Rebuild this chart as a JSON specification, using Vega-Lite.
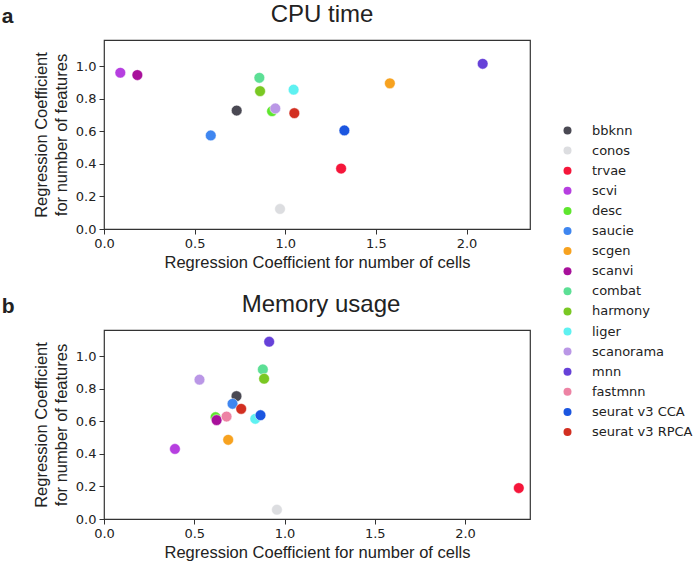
{
  "$schema": "https://vega.github.io/schema/vega-lite/v6.json",
  "background": "white",
  "padding": {"left": 1, "top": 2, "right": 5, "bottom": 5},
  "data": {"values": [
    {"panel": "a", "method": "bbknn", "cells": 0.732, "features": 0.727},
    {"panel": "a", "method": "conos", "cells": 0.971, "features": 0.123},
    {"panel": "a", "method": "trvae", "cells": 1.308, "features": 0.371},
    {"panel": "a", "method": "scvi", "cells": 0.090, "features": 0.959},
    {"panel": "a", "method": "desc", "cells": 0.927, "features": 0.723},
    {"panel": "a", "method": "saucie", "cells": 0.589, "features": 0.574},
    {"panel": "a", "method": "scgen", "cells": 1.577, "features": 0.894},
    {"panel": "a", "method": "scanvi", "cells": 0.184, "features": 0.945},
    {"panel": "a", "method": "combat", "cells": 0.857, "features": 0.928},
    {"panel": "a", "method": "harmony", "cells": 0.861, "features": 0.846},
    {"panel": "a", "method": "liger", "cells": 1.046, "features": 0.855},
    {"panel": "a", "method": "scanorama", "cells": 0.945, "features": 0.740},
    {"panel": "a", "method": "mnn", "cells": 2.089, "features": 1.014},
    {"panel": "a", "method": "seurat v3 CCA", "cells": 1.326, "features": 0.605},
    {"panel": "a", "method": "seurat v3 RPCA", "cells": 1.050, "features": 0.711},
    {"panel": "b", "method": "bbknn", "cells": 0.734, "features": 0.754},
    {"panel": "b", "method": "conos", "cells": 0.958, "features": 0.057},
    {"panel": "b", "method": "trvae", "cells": 2.298, "features": 0.190},
    {"panel": "b", "method": "scvi", "cells": 0.393, "features": 0.430},
    {"panel": "b", "method": "desc", "cells": 0.618, "features": 0.625},
    {"panel": "b", "method": "saucie", "cells": 0.712, "features": 0.707},
    {"panel": "b", "method": "scgen", "cells": 0.688, "features": 0.486},
    {"panel": "b", "method": "scanvi", "cells": 0.624, "features": 0.607},
    {"panel": "b", "method": "combat", "cells": 0.880, "features": 0.918},
    {"panel": "b", "method": "harmony", "cells": 0.887, "features": 0.861},
    {"panel": "b", "method": "liger", "cells": 0.838, "features": 0.615},
    {"panel": "b", "method": "scanorama", "cells": 0.529, "features": 0.855},
    {"panel": "b", "method": "mnn", "cells": 0.915, "features": 1.088},
    {"panel": "b", "method": "fastmnn", "cells": 0.679, "features": 0.629},
    {"panel": "b", "method": "seurat v3 CCA", "cells": 0.867, "features": 0.637},
    {"panel": "b", "method": "seurat v3 RPCA", "cells": 0.760, "features": 0.676}
  ]},
  "vconcat": [
    {
      "title": {"text": "a", "anchor": "start", "fontSize": 21, "fontWeight": "bold", "offset": -25, "dx": -31},
      "vconcat": [
        {
          "title": {"text": "CPU time", "fontSize": 24, "fontWeight": "normal", "offset": 13, "dx": 5},
          "transform": [{"filter": "datum.panel === 'a'"}],
          "width": 426, "height": 189,
          "mark": {"type": "circle", "size": 115, "opacity": 1, "stroke": "white", "strokeWidth": 0.5},
          "encoding": {
            "x": {"field": "cells", "type": "quantitative", "scale": {"domain": [0, 2.35], "nice": false, "zero": false},
                  "axis": {"values": [0, 0.5, 1, 1.5, 2], "format": ".1f", "title": "Regression Coefficient for number of cells"}},
            "y": {"field": "features", "type": "quantitative", "scale": {"domain": [0, 1.16], "nice": false},
                  "axis": {"values": [0, 0.2, 0.4, 0.6, 0.8, 1.0], "format": ".1f", "title": ["Regression Coefficient", "for number of features"]}},
            "color": {"field": "method", "type": "nominal",
                      "scale": {"domain": ["bbknn", "conos", "trvae", "scvi", "desc", "saucie", "scgen", "scanvi", "combat", "harmony", "liger", "scanorama", "mnn", "fastmnn", "seurat v3 CCA", "seurat v3 RPCA"],
                                "range": ["#4a4953", "#dcdde0", "#f5163a", "#b63fe0", "#5ee62e", "#3f86f0", "#f7a21f", "#a8109b", "#5cdf95", "#7ac823", "#5ef1f1", "#ba97e6", "#6641d8", "#ed83a4", "#1b56e0", "#d22f21"]},
                      "legend": {"title": null, "orient": "none", "legendX": 457, "legendY": 84}}
          }
        }
      ]
    },
    {
      "title": {"text": "b", "anchor": "start", "fontSize": 21, "fontWeight": "bold", "offset": -25, "dx": -31},
      "vconcat": [
        {
          "title": {"text": "Memory usage", "fontSize": 24, "fontWeight": "normal", "offset": 13, "dx": 4},
          "transform": [{"filter": "datum.panel === 'b'"}],
          "width": 426, "height": 189,
          "mark": {"type": "circle", "size": 115, "opacity": 1, "stroke": "white", "strokeWidth": 0.5},
          "encoding": {
            "x": {"field": "cells", "type": "quantitative", "scale": {"domain": [0, 2.36], "nice": false, "zero": false},
                  "axis": {"values": [0, 0.5, 1, 1.5, 2], "format": ".1f", "title": "Regression Coefficient for number of cells"}},
            "y": {"field": "features", "type": "quantitative", "scale": {"domain": [0, 1.16], "nice": false},
                  "axis": {"values": [0, 0.2, 0.4, 0.6, 0.8, 1.0], "format": ".1f", "title": ["Regression Coefficient", "for number of features"]}},
            "color": {"field": "method", "type": "nominal"}
          }
        }
      ]
    }
  ],
  "spacing": 20,
  "config": {
    "font": "DejaVu Sans",
    "view": {"stroke": "#333333", "strokeWidth": 1.2},
    "concat": {"spacing": 20},
    "title": {"color": "#222222", "font": "Liberation Sans"},
    "axis": {
      "grid": false, "domain": false,
      "tickColor": "#333333", "tickSize": 5, "tickWidth": 1,
      "labelFont": "DejaVu Sans", "labelFontSize": 13, "labelColor": "#222222", "labelPadding": 3,
      "titleFont": "Liberation Sans", "titleFontSize": 16.5, "titleFontWeight": "normal", "titleColor": "#222222",
      "titleLineHeight": 20
    },
    "axisX": {"titlePadding": 4, "labelFlush": false},
    "axisY": {"titlePadding": 6, "labelFlush": false},
    "legend": {"labelFont": "DejaVu Sans", "labelFontSize": 13, "labelColor": "#222222", "symbolSize": 64, "symbolType": "circle", "symbolStrokeWidth": 0, "rowPadding": 6.1, "labelOffset": 18, "symbolOpacity": 1}
  }
}
